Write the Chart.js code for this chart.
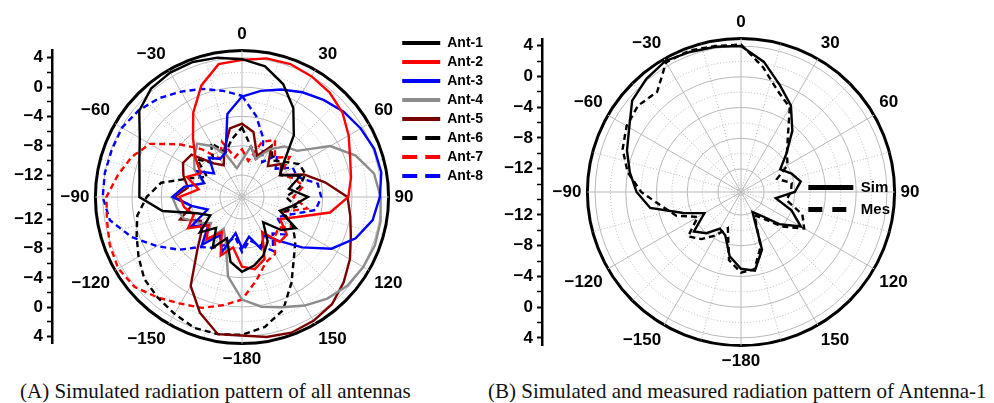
<!DOCTYPE html>
<html>
<head>
<meta charset="utf-8">
<title>Radiation patterns</title>
<script src="https://cdn.jsdelivr.net/npm/chart.js@4.4.1/dist/chart.umd.min.js"></script>
<style>
  html, body { margin: 0; padding: 0; background: #fff; }
  #page { position: relative; width: 994px; height: 403px; overflow: hidden; }
  canvas { position: absolute; }
  .caption {
    position: absolute;
    font-family: "Liberation Serif", "Times New Roman", serif;
    font-size: 21px;
    color: #111;
    white-space: nowrap;
  }
</style>
</head>
<body>
<div id="page">
  <canvas id="polarA" width="420" height="346" style="left:32px;top:24px"></canvas>
  <canvas id="axisA" width="481" height="313" style="left:12px;top:31px"></canvas>
  <canvas id="polarB" width="436" height="360" style="left:523px;top:12px"></canvas>
  <canvas id="axisB" width="398" height="321" style="left:502px;top:38px"></canvas>
  <div class="caption" style="left:20px;top:379px">(A) Simulated radiation pattern of all antennas</div>
  <div class="caption" style="left:488px;top:379px">(B) Simulated and measured radiation pattern of Antenna-1</div>
</div>
<script>
Chart.defaults.font.family = '"Liberation Sans", Arial, sans-serif';
Chart.defaults.color = '#000';
Chart.defaults.animation = false;

// dial labels, one every 30° clockwise from the top
const angleTicks = ['0', '30', '60', '90', '120', '150', '\u2212180', '\u2212150', '\u2212120', '\u221290', '\u221260', '\u221230'];
// labelled gains on the side axis (dB)
const gainTicks = [4, 0, -4, -8, -12];
const gainMin = -15;
const gainMax = 5;

// gain in dB every 10°: 0, 10 ... 180, -170 ... -10
const ant1 = [3.8, 3.1, 1.4, -1.0, -4.0, -7.5, -9.0, -6.5, -8.5, -6.0,
  -8.0, -9.5, -6.5, -8.0, -10.5, -8.0, -6.5, -5.5, -4.8,
  -6.0, -9.0, -7.0, -9.5, -7.5, -10.0, -8.5, -4.0, -1.0,
  -0.8, -0.1, 1.1, 3.3, 4.3, 4.6, 4.6, 4.3];
const ant2 = [3.7, 4.2, 4.3, 4.0, 3.6, 2.9, 1.8, 0.7, 0.1, -0.5,
  -2.8, -7.0, -9.0, -7.0, -7.0, -9.5, -6.0, -5.0, -5.5,
  -8.0, -6.5, -9.5, -7.5, -9.0, -6.5, -8.0, -7.0, -6.5,
  -9.0, -7.0, -8.5, -6.7, -4.6, -1.7, 1.2, 3.4];
const ant3 = [-1.3, -0.3, 0.6, 1.5, 2.3, 3.1, 3.7, 4.2, 4.3, 3.8,
  3.1, 1.5, -0.9, -4.3, -7.2, -9.0, -7.5, -9.5, -8.0,
  -10.0, -7.0, -9.0, -6.5, -9.0, -7.0, -10.0, -8.0, -5.5,
  -7.0, -9.5, -8.0, -10.0, -8.0, -9.0, -8.5, -3.5];
const ant4 = [-10.0, -8.0, -9.5, -7.5, -6.0, -5.2, -1.1, 1.5, 3.3, 3.9,
  4.2, 4.3, 4.1, 3.8, 3.1, 2.1, 1.0, 0.2, -1.0,
  -4.0, -8.5, -10.0, -7.0, -9.5, -8.0, -6.5, -6.0, -5.5,
  -7.0, -9.5, -7.5, -6.5, -5.5, -7.0, -9.0, -11.0];
const ant5 = [-5.0, -6.0, -9.0, -7.0, -9.5, -8.0, -9.0, -6.0, -3.5, -0.6,
  0.0, 0.8, 2.0, 3.1, 4.1, 4.5, 4.7, 4.4, 3.9,
  4.0, 1.8, -1.0, -5.5, -7.8, -8.5, -6.0, -8.0, -5.8,
  -7.5, -6.5, -5.7, -6.0, -9.0, -10.0, -8.0, -5.5];
const ant6 = [-5.5, -8.0, -9.5, -7.0, -8.5, -7.5, -6.0, -5.8, -7.0, -9.0,
  -7.5, -9.0, -7.0, -5.5, -4.0, -1.5, 1.4, 3.0, 3.8,
  4.0, 4.0, 3.4, 2.9, 2.4, 1.3, 0.3, -0.5, -2.0,
  -3.8, -7.5, -9.5, -7.0, -9.0, -6.5, -8.5, -7.0];
const ant7 = [-8.5, -10.0, -7.0, -6.0, -8.0, -6.5, -9.0, -7.5, -6.5, -8.0,
  -6.0, -9.0, -7.0, -8.5, -8.0, -6.0, -5.5, -3.5, -1.0,
  0.0, 1.1, 1.8, 2.9, 4.1, 4.5, 4.2, 3.7, 3.5,
  2.2, 1.0, -0.5, -3.8, -6.5, -9.0, -7.0, -9.5];
const ant8 = [-1.2, -3.8, -6.5, -9.5, -7.5, -9.0, -7.0, -7.0, -4.5, -4.2,
  -4.8, -8.0, -9.5, -7.0, -8.5, -6.5, -8.0, -9.0, -7.5,
  -9.5, -8.0, -7.0, -6.1, -3.8, -1.6, 1.0, 3.3, 4.0,
  4.0, 3.9, 3.9, 3.4, 2.6, 1.6, 0.7, -0.3];

// Antenna-1, simulated and measured
const sim = [4.0, 2.2, -0.2, -2.0, -4.6, -7.3, -9.1, -8.0, -7.1, -8.0,
  -10.4, -8.0, -6.0, -8.5, -11.0, -12.0, -7.0, -4.6, -5.0,
  -6.5, -9.0, -9.5, -8.0, -7.0, -9.5, -7.0, -3.0, -1.4,
  -0.3, 0.8, 1.8, 3.5, 4.2, 4.7, 4.4, 4.2];
const mes = [4.2, 1.5, -1.0, -2.3, -5.5, -7.2, -8.0, -10.0, -8.3, -8.5,
  -9.0, -6.5, -5.5, -8.0, -10.5, -11.5, -7.5, -4.8, -4.5,
  -6.0, -10.0, -8.5, -7.0, -6.0, -8.5, -6.0, -4.5, -2.0,
  0.0, 1.4, 2.2, 2.5, 2.0, 4.5, 4.6, 4.3];

const antNames = ['Ant-1', 'Ant-2', 'Ant-3', 'Ant-4', 'Ant-5', 'Ant-6', 'Ant-7', 'Ant-8'];
const antColors = ['#000000', '#ff0000', '#0000ff', '#8c8c8c', '#7a0000', '#000000', '#ff0000', '#0000ff'];
const antDashed = [false, false, false, false, false, true, true, true];

// the dial has a spoke every 5°, the samples sit on every second one
const dirs = Array.from({ length: 72 }, (_, i) => i * 5);
function onDial(values) {
  return values.flatMap(v => [v, null]);
}

// side axis runs across the dial diameter: 5 dB at the rim, -15 at the centre, 5 again
const sideLevels = [];
for (let v = gainMax; v > gainMin; v--) sideLevels.push(v);
sideLevels.push(gainMin);
for (let v = gainMin + 1; v <= gainMax; v++) sideLevels.push(v);

const minus = v => String(v).replace('-', '\u2212');

function dialScale() {
  const even = v => v % 2 === 0;
  return {
    min: gainMin,
    max: gainMax,
    ticks: { display: false, stepSize: 1 },
    grid: {
      circular: true,
      color: c => c.tick.value === gainMax ? '#000' : (even(c.tick.value) ? '#b9b9b9' : 'rgba(0,0,0,0)'),
      lineWidth: c => c.tick.value === gainMax ? 3 : (even(c.tick.value) ? 1 : 0)
    },
    border: {
      // every other ring dotted
      dash: c => (c.tick && even(c.tick.value) && c.tick.value % 4 !== 0) ? [1, 2] : []
    },
    angleLines: {
      color: c => c.index % 3 === 0 ? '#b9b9b9' : 'rgba(0,0,0,0)',
      lineWidth: c => c.index % 3 === 0 ? 1 : 0,
      borderDash: c => c.index % 6 === 0 ? [] : [1, 2]
    },
    pointLabels: {
      padding: 6,
      color: '#000',
      font: { size: 17, weight: 'bold' },
      callback: (label, i) => i % 6 === 0 ? angleTicks[i / 6] : ''
    }
  };
}

function polarChart(id, datasets) {
  return new Chart(document.getElementById(id), {
    type: 'radar',
    data: { labels: dirs, datasets },
    options: {
      responsive: false,
      animation: false,
      layout: { padding: 0 },
      plugins: { legend: { display: false }, tooltip: { enabled: false } },
      elements: { point: { radius: 0 }, line: { tension: 0 } },
      scales: { r: dialScale() }
    }
  });
}

function trace(label, values, color, dashed) {
  return {
    label,
    data: onDial(values),
    borderColor: color,
    backgroundColor: color,
    borderWidth: 2.4,
    borderDash: dashed ? [6, 4] : [],
    fill: false,
    spanGaps: true,
    pointRadius: 0
  };
}

function sideAxis(id, spacerPos, spacerSize, legend) {
  const level = c => sideLevels[c.index];
  return new Chart(document.getElementById(id), {
    type: 'scatter',
    data: { datasets: [] },
    options: {
      responsive: false,
      animation: false,
      layout: { padding: 0 },
      plugins: {
        tooltip: { enabled: false },
        legend: {
          display: true,
          position: 'right',
          align: legend.align,
          labels: {
            usePointStyle: true,
            pointStyleWidth: legend.lineLength,
            padding: legend.padding,
            color: '#000',
            font: { size: legend.fontSize, weight: 'bold' },
            generateLabels: () => legend.items
          }
        }
      },
      scales: {
        x: {
          type: 'linear',
          position: spacerPos,
          ticks: { display: false },
          grid: { display: false },
          border: { display: false },
          afterFit: s => { s.height = spacerSize; }
        },
        side: {
          type: 'category',
          axis: 'y',
          position: 'left',
          labels: sideLevels.map(v => gainTicks.includes(v) ? minus(v) : ''),
          offset: false,
          afterFit: s => { s.width = 40; s.paddingTop = 0; s.paddingBottom = 0; },
          border: { display: true, color: '#000', width: 2.5 },
          grid: {
            drawOnChartArea: false,
            drawTicks: true,
            tickLength: 5,
            tickColor: c => level(c) % 2 === 0 ? '#000' : 'rgba(0,0,0,0)',
            tickWidth: c => gainTicks.includes(level(c)) ? 2 : 1.5
          },
          ticks: {
            autoSkip: false,
            padding: 4,
            color: '#000',
            font: { size: 17, weight: 'bold' }
          }
        }
      }
    }
  });
}

function keyItem(text, color, width, dash) {
  return {
    text,
    fillStyle: color,
    strokeStyle: color,
    fontColor: '#000',
    lineWidth: width,
    lineDash: dash,
    lineCap: 'butt',
    pointStyle: 'line',
    hidden: false
  };
}

// (A) all eight antennas
const antSeries = [ant1, ant2, ant3, ant4, ant5, ant6, ant7, ant8];
polarChart('polarA', antSeries.map((vals, k) => trace(antNames[k], vals, antColors[k], antDashed[k])));
sideAxis('axisA', 'top', 19.4, {
  align: 'start',
  lineLength: 38,
  padding: 5,
  fontSize: 14,
  items: antNames.map((n, k) => keyItem(n, antColors[k], 4, antDashed[k] ? [15, 8] : []))
});

// (B) Antenna-1 simulated vs measured
polarChart('polarB', [trace('Sim', sim, '#000', false), trace('Mes', mes, '#000', true)]);
sideAxis('axisB', 'bottom', 13.4, {
  align: 'center',
  lineLength: 45,
  padding: 7,
  fontSize: 15,
  items: [keyItem('Sim', '#000', 5, []), keyItem('Mes', '#000', 5, [14, 10])]
});
</script>
</body>
</html>
